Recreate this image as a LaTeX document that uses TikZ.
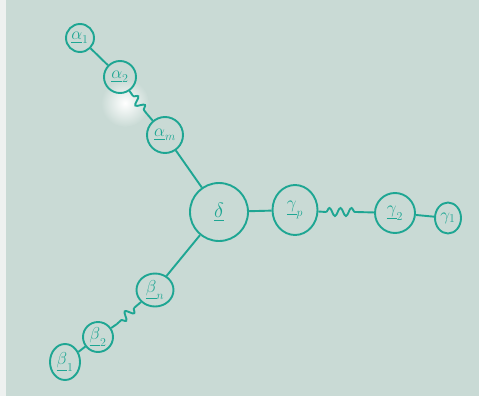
\documentclass[tikz,border=0pt]{standalone}
\usepackage{amsmath,amssymb}
\usetikzlibrary{arrows.meta, shapes.geometric, positioning, calc,
                decorations.pathmorphing}
\definecolor{Board}  {HTML}{C9DAD5}
\definecolor{Edge}   {HTML}{EEF1F0}
\definecolor{Marker} {HTML}{1EA693}

\begin{document}
\begin{tikzpicture}[
  x=1pt, y=-1pt,
  every node/.style={font=\LARGE},
  vtx/.style={draw=Marker, circle, line width=1.9pt, inner sep=0pt,
              text=Marker},
  oval/.style={vtx, ellipse},
  link/.style={draw=Marker, line width=1.9pt},
  brk/.style={link, decorate,
              decoration={snake, segment length=11pt, amplitude=4pt}},
]
  \useasboundingbox (0,0) rectangle (479,396);
  \fill[Board] (0,0) rectangle (479,396);
  \fill[Edge] (0,0) rectangle (6,396);
  % glare on the board
  \shade[inner color=white, outer color=Board] (125,103) circle (24);

  \node[vtx, minimum size=58pt, font=\huge] (d) at (219,212)
    {$\underline{\delta}$};

  \node[vtx, minimum size=28pt] (a1) at (80,38)   {$\underline{\alpha}_1$};
  \node[vtx, minimum size=32pt] (a2) at (120,77)  {$\underline{\alpha}_2$};
  \node[vtx, minimum size=36pt] (am) at (165,135) {$\underline{\alpha}_m$};

  \node[oval, minimum width=45pt, minimum height=50pt]
                                (gp) at (295,210) {$\underline{\gamma}_p$};
  \node[vtx, minimum size=40pt] (g2) at (395,213) {$\underline{\gamma}_2$};
  \node[oval, minimum width=26pt, minimum height=31pt]
                                (g1) at (448,218) {$\gamma_1$};

  \node[oval, minimum width=37pt, minimum height=33pt]
                                (bn) at (155,290) {$\underline{\beta}_n$};
  \node[vtx, minimum size=30pt] (b2) at (98,337)  {$\underline{\beta}_2$};
  \node[oval, minimum width=30pt, minimum height=36pt]
                                (b1) at (65,362)  {$\underline{\beta}_1$};

  \coordinate (abrk1) at (133,96);
  \coordinate (abrk2) at (147,114);
  \coordinate (gbrk1) at (326,212);
  \coordinate (gbrk2) at (356,212);
  \coordinate (bbrk1) at (134,308);
  \coordinate (bbrk2) at (117,324);

  \foreach \a/\b in {a1/a2, am/d, d/gp, g2/g1, d/bn, b2/b1,
                     a2/abrk1, abrk2/am, gp/gbrk1, gbrk2/g2,
                     bn/bbrk1, bbrk2/b2}
    \draw[link] (\a) -- (\b);

  % broken parts of the arms
  \foreach \a/\b in {abrk1/abrk2, gbrk1/gbrk2, bbrk1/bbrk2}
    \draw[brk] (\a) -- (\b);
\end{tikzpicture}
\end{document}
